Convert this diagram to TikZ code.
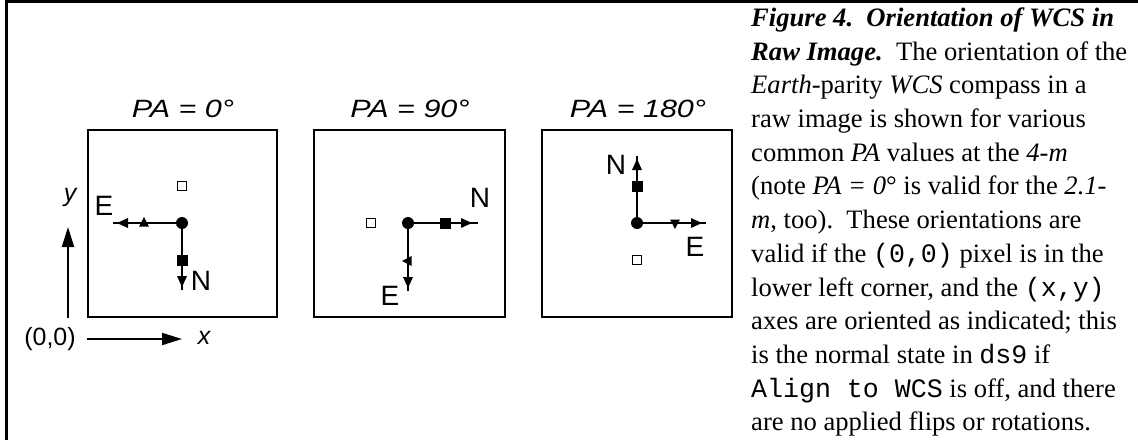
\documentclass[tikz,border=0pt]{standalone}
\usepackage{fontspec}
\setmainfont{Liberation Serif}
\setsansfont{Liberation Sans}
\setmonofont{Liberation Mono}
\newfontfamily\widesans[FakeStretch=1.22]{Liberation Sans}
\usetikzlibrary{decorations.markings,arrows.meta}

\tikzset{
  frame/.style={line width=3pt},
  panel/.style={draw, line width=2pt},
  ptitle/.style={font=\widesans\itshape\fontsize{25}{25}\selectfont, inner sep=0pt},
  dirlabel/.style={font=\sffamily\fontsize{28}{28}\selectfont, inner sep=0pt},
  axlabel/.style={font=\sffamily\itshape\fontsize{25}{25}\selectfont, inner sep=0pt},
  origlabel/.style={font=\sffamily\fontsize{25}{25}\selectfont, inner sep=0pt},
  hub/.style={circle, fill, minimum size=12pt, inner sep=0pt},
  fovbox/.style={draw, line width=1.5pt, minimum size=9pt, inner sep=0pt},
  % north arm: filled square, then arrow head
  northarm/.style={line width=2pt, postaction={decorate}, decoration={markings,
     mark=at position 37pt with {\fill (-5.5pt,-5.5pt) rectangle (5.5pt,5.5pt);},
     mark=at position 64pt with {\fill (0pt,0pt) -- (-11pt,5pt) -- (-11pt,-5pt) -- cycle;}}},
  % east arm: side triangle pointing away from north, then arrow head
  eastarm/.style={line width=2pt, postaction={decorate}, decoration={markings,
     mark=at position 38pt with {\fill (0pt,-6pt) -- (-5pt,3.5pt) -- (5pt,3.5pt) -- cycle;},
     mark=at position 65pt with {\fill (0pt,0pt) -- (-11pt,5pt) -- (-11pt,-5pt) -- cycle;}}},
  axis/.style={line width=2pt, -{Triangle[length=20pt,width=12pt]}},
  caption/.style={font=\fontsize{26.6}{33.7}\selectfont, align=left, inner sep=0pt},
}

\begin{document}
\begin{tikzpicture}[x=1pt,y=1pt]
\useasboundingbox (0,0) rectangle (1138,-440);

% outer frame (top and left edges)
\draw[frame] (6.5,-440) -- (6.5,-1.5) -- (1138,-1.5);

% image panels
\node[panel, minimum width=189pt, minimum height=187pt, inner sep=0pt] (p1) at (182.5,-223.5) {};
\node[panel, minimum width=191pt, minimum height=187pt, inner sep=0pt] (p2) at (409.5,-223.5) {};
\node[panel, minimum width=190pt, minimum height=187pt, inner sep=0pt] (p3) at (637,-223.5) {};

\node[ptitle] (t1) at (183,-109) {PA = 0°};
\node[ptitle] (t2) at (410,-109) {PA = 90°};
\node[ptitle] (t3) at (638,-109) {PA = 180°};

% PA = 0
\node[hub] (c1) at (182,-223) {};
\coordinate (n1) at (182,-290);
\coordinate (e1) at (113,-223);
\draw[northarm] (c1.center) -- (n1);
\draw[eastarm] (c1.center) -- (e1);
\node[fovbox] (f1) at (182,-186) {};
\node[dirlabel] (le1) at (104,-206) {E};
\node[dirlabel] (ln1) at (201,-281) {N};

% PA = 90
\node[hub] (c2) at (408,-223) {};
\coordinate (n2) at (478,-223);
\coordinate (e2) at (408,-291);
\draw[northarm] (c2.center) -- (n2);
\draw[eastarm] (c2.center) -- (e2);
\node[fovbox] (f2) at (371,-223) {};
\node[dirlabel] (le2) at (390,-296) {E};
\node[dirlabel] (ln2) at (480,-198) {N};

% PA = 180
\node[hub] (c3) at (637,-223) {};
\coordinate (n3) at (637,-156);
\coordinate (e3) at (706,-223);
\draw[northarm] (c3.center) -- (n3);
\draw[eastarm] (c3.center) -- (e3);
\node[fovbox] (f3) at (637,-260) {};
\node[dirlabel] (le3) at (695,-247) {E};
\node[dirlabel] (ln3) at (616,-165) {N};

% pixel axes
\coordinate (ybot) at (68,-318);
\coordinate (ytop) at (68,-227);
\coordinate (xbeg) at (87,-339);
\coordinate (xend) at (182,-339);
\draw[axis] (ybot) -- (ytop);
\draw[axis] (xbeg) -- (xend);
\node[axlabel] (ly) at (70,-197) {y};
\node[axlabel] (lx) at (204,-338) {x};
\node[origlabel] (lo) at (50,-339) {(0,0)};

% caption
\node[caption, anchor=north west] (cap) at (751,-7.5) {%
\textbf{\textit{Figure 4.\ \ Orientation of WCS in}}\\
\textbf{\textit{Raw Image.}}\ \ The orientation of the\\
\textit{Earth}-parity \textit{WCS} compass in a\\
raw image is shown for various\\
common \textit{PA} values at the \textit{4-m}\\
(note \textit{PA = 0}° is valid for the \textit{2.1-}\\
\textit{m}, too).\ \ These orientations are\\
valid if the \texttt{(0,0)} pixel is in the\\
lower left corner, and the \texttt{(x,y)}\\
axes are oriented as indicated; this\\
is the normal state in \texttt{ds9} if\\
\texttt{Align to WCS} is off, and there\\
are no applied flips or rotations.};
\end{tikzpicture}
\end{document}
